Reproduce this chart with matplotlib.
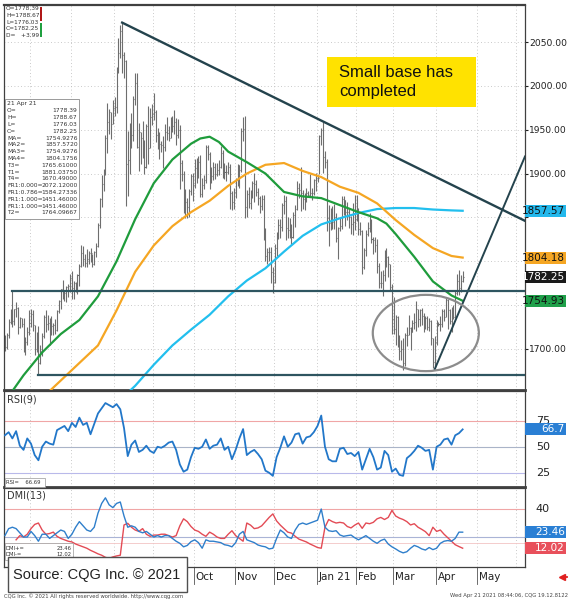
import numpy as np
import pandas as pd
import matplotlib
matplotlib.use("Agg")
import matplotlib.pyplot as plt
from matplotlib.patches import Ellipse, Rectangle
from matplotlib.lines import Line2D
from matplotlib.transforms import blended_transform_factory

# daily gold bars, 12 May 2020 .. 21 Apr 2021 (business days)
dates = pd.bdate_range("2020-05-12", "2021-04-21")

highs = [
    1716, 1718, 1734, 1745, 1765.61, 1746, 1753, 1748, 1737, 1735, 1735, 1714, 1725, 1744,
    1745, 1744, 1727, 1719, 1726, 1705, 1718, 1739, 1744, 1739, 1735, 1738, 1730, 1734, 1744, 1756, 1768, 1779, 1767, 1772, 1774, 1785,
    1789, 1777, 1776, 1786, 1797, 1818, 1817, 1808, 1814, 1812, 1815, 1808, 1812, 1821, 1844, 1872, 1898, 1905, 1944, 1980, 1974, 1970, 1984,
    1987, 2021, 2055, 2069, 2072.12, 2039, 2030, 1949, 1958, 1969, 1988, 2015, 2015, 1958, 1947, 1960, 1938, 1957, 1977, 1975, 1979,
    1992, 1973, 1952, 1947, 1937, 1943, 1956, 1965, 1954, 1964, 1966, 1973, 1963, 1962, 1955, 1915, 1903, 1882, 1872, 1882, 1900, 1901,
    1917, 1918, 1920, 1921, 1895, 1898, 1933, 1933, 1925, 1908, 1913, 1912, 1912, 1916, 1931, 1927, 1912, 1910, 1913, 1911, 1880, 1883,
    1895, 1911, 1910, 1952, 1965, 1966, 1881, 1885, 1881, 1892, 1901, 1893, 1884, 1874, 1875, 1875, 1838, 1815, 1816, 1816, 1793,
    1820, 1833, 1848, 1848, 1866, 1875, 1874, 1850, 1849, 1842, 1856, 1864, 1891, 1889, 1907, 1881, 1878, 1884, 1880, 1900, 1883, 1894, 1901,
    1898, 1944, 1952, 1959, 1926, 1917, 1864, 1861, 1863, 1865, 1855, 1839, 1850, 1874, 1874, 1870, 1867, 1860, 1852, 1866, 1875,
    1875, 1861, 1845, 1836, 1815, 1836, 1845, 1855, 1848, 1828, 1828, 1825, 1798, 1789, 1790, 1813, 1815, 1806, 1797, 1774,
    1759, 1739, 1738, 1716, 1710, 1712, 1718, 1725, 1739, 1725, 1733, 1741, 1755, 1745, 1745, 1747, 1741, 1738, 1738, 1735, 1733, 1712, 1715,
    1733, 1731, 1738, 1745, 1745, 1758, 1757, 1746, 1748, 1750, 1766, 1785, 1790, 1784, 1788.67,
]
lows = [
    1698, 1700, 1713, 1728, 1725, 1727, 1737, 1717, 1724, 1725, 1697, 1693, 1705, 1716,
    1725, 1721, 1693, 1697, 1670.49, 1683, 1692, 1712, 1719, 1722, 1704, 1716, 1716, 1717, 1720, 1741, 1746, 1757, 1755, 1754, 1759, 1765,
    1757, 1757, 1765, 1763, 1772, 1794, 1795, 1794, 1794, 1797, 1799, 1794, 1796, 1805, 1816, 1838, 1862, 1880, 1898, 1924, 1945, 1939, 1956,
    1966, 1969, 2015, 2032, 2015, 2009, 1863, 1874, 1900, 1929, 1937, 1978, 1929, 1903, 1911, 1918, 1900, 1906, 1911, 1929, 1955,
    1961, 1936, 1928, 1917, 1925, 1906, 1926, 1938, 1937, 1940, 1947, 1945, 1932, 1941, 1882, 1891, 1855, 1849, 1849, 1851, 1875, 1869,
    1884, 1889, 1895, 1873, 1873, 1882, 1889, 1916, 1882, 1889, 1893, 1894, 1897, 1898, 1906, 1895, 1894, 1891, 1899, 1860, 1859, 1860,
    1872, 1886, 1883, 1902, 1937, 1849, 1850, 1861, 1860, 1872, 1867, 1874, 1864, 1855, 1859, 1824, 1800, 1797, 1800, 1775, 1764,
    1775, 1806, 1825, 1826, 1835, 1854, 1824, 1826, 1826, 1820, 1826, 1839, 1858, 1872, 1857, 1860, 1859, 1868, 1873, 1873, 1870, 1875, 1880,
    1890, 1900, 1932, 1901, 1906, 1835, 1817, 1836, 1837, 1837, 1822, 1803, 1834, 1837, 1853, 1840, 1847, 1838, 1831, 1830, 1836,
    1846, 1830, 1830, 1785, 1791, 1806, 1829, 1833, 1821, 1808, 1811, 1787, 1769, 1770, 1760, 1778, 1793, 1782, 1766, 1717,
    1717, 1705, 1702, 1687, 1687, 1676, 1680, 1703, 1716, 1699, 1719, 1723, 1721, 1725, 1726, 1727, 1719, 1723, 1722, 1720, 1705, 1678, 1677,
    1705, 1726, 1720, 1725, 1732, 1736, 1723, 1728, 1719, 1734, 1735, 1762, 1762, 1765, 1776.03,
]
closes = [
    1702, 1716, 1731, 1743, 1732, 1745, 1747, 1725, 1735, 1729, 1710, 1708, 1719, 1730,
    1740, 1727, 1700, 1713, 1684, 1698, 1715, 1737, 1728, 1730, 1726, 1726, 1727, 1722, 1743, 1755, 1768, 1762, 1764, 1771, 1772, 1781,
    1770, 1775, 1774, 1784, 1795, 1809, 1803, 1798, 1803, 1809, 1809, 1797, 1810, 1817, 1841, 1871, 1888, 1902, 1941, 1959, 1970, 1957, 1975,
    1976, 2019, 2038, 2063, 2035, 2028, 1911, 1915, 1954, 1944, 1985, 2003, 1930, 1947, 1940, 1929, 1907, 1954, 1929, 1964, 1968,
    1970, 1944, 1938, 1934, 1932, 1930, 1947, 1946, 1941, 1957, 1954, 1959, 1944, 1950, 1912, 1900, 1863, 1868, 1862, 1880, 1897, 1887,
    1906, 1900, 1913, 1877, 1887, 1893, 1930, 1922, 1891, 1897, 1908, 1899, 1904, 1907, 1924, 1905, 1902, 1902, 1908, 1878, 1868, 1879,
    1894, 1910, 1904, 1948, 1951, 1862, 1877, 1866, 1873, 1889, 1888, 1879, 1872, 1863, 1871, 1837, 1806, 1811, 1811, 1788, 1776,
    1815, 1831, 1841, 1839, 1864, 1869, 1838, 1836, 1839, 1828, 1853, 1860, 1884, 1881, 1878, 1871, 1875, 1878, 1876, 1878, 1878, 1893, 1895,
    1895, 1943, 1950, 1919, 1913, 1849, 1844, 1856, 1845, 1851, 1827, 1838, 1840, 1871, 1870, 1856, 1856, 1850, 1843, 1845, 1848,
    1860, 1837, 1834, 1793, 1813, 1831, 1838, 1842, 1825, 1824, 1819, 1795, 1775, 1775, 1784, 1808, 1805, 1797, 1771, 1734,
    1723, 1737, 1712, 1698, 1700, 1684, 1716, 1716, 1724, 1719, 1730, 1731, 1745, 1734, 1744, 1738, 1726, 1735, 1725, 1732, 1712, 1685, 1708,
    1728, 1729, 1728, 1743, 1737, 1756, 1744, 1732, 1744, 1737, 1764, 1777, 1770, 1778, 1782.25,
]

# moving averages (bar number, value)
ma_green_bars = [4, 10, 20, 30, 40, 50, 60, 70, 80, 90, 100, 105, 110, 115, 120, 130, 140, 150,
                 160, 170, 180, 190, 200, 205, 210, 220, 230, 240, 246]
ma_green = [1652, 1670, 1696, 1717, 1733, 1760, 1800, 1848, 1889, 1916, 1934, 1940, 1942, 1936,
            1925, 1913, 1900, 1879, 1874, 1872, 1864, 1856, 1849, 1843, 1831, 1805, 1777, 1761, 1754.93]
ma_orange_bars = [24, 30, 40, 50, 60, 70, 80, 90, 100, 110, 120, 130, 140, 150, 160, 170, 180,
                  190, 200, 210, 220, 230, 240, 246]
ma_orange = [1652, 1664, 1684, 1704, 1744, 1788, 1818, 1840, 1856, 1869, 1886, 1900, 1910, 1912,
             1903, 1896, 1885, 1878, 1866, 1847, 1830, 1815, 1806, 1804.18]
ma_cyan_bars = [67, 70, 80, 90, 100, 110, 120, 130, 140, 150, 160, 170, 180, 190, 200, 210, 220,
                230, 240, 246]
ma_cyan = [1652, 1658, 1682, 1704, 1722, 1739, 1760, 1778, 1792, 1811, 1829, 1842, 1849, 1855,
           1859.5, 1860.7, 1860.7, 1859, 1858, 1857.57]

# RSI(9) and DMI(13), one reading every second bar
rsi = [61, 64, 58, 65, 51, 47, 58, 53, 42, 37,
       50, 55, 53, 52, 66, 68, 70, 65, 73, 69,
       78, 71, 73, 62, 72, 82, 87, 92, 90, 88,
       91, 86, 68, 41, 52, 56, 45, 47, 51, 46,
       44, 50, 49, 51, 54, 55, 47, 33, 26, 28,
       40, 49, 48, 50, 57, 48, 51, 52, 58, 47,
       50, 38, 47, 58, 67, 42, 45, 47, 43, 38,
       27, 25, 22, 40, 49, 60, 50, 54, 62, 63,
       53, 59, 60, 64, 70, 80, 50, 38, 36, 36,
       48, 49, 43, 44, 41, 45, 28, 38, 48, 40,
       28, 30, 46, 42, 26, 29, 23, 22, 39, 42,
       46, 51, 49, 46, 47, 28, 50, 52, 57, 58,
       52, 61, 63, 66.69]
dmi_plus = [21, 26, 27, 26, 23, 20, 20, 24, 21, 17,
            22, 22, 19, 21, 23, 25, 24, 19, 22, 27,
            31, 28, 25, 24, 27, 37, 44, 48, 43, 41,
            44, 45, 35, 27, 28, 27, 24, 23, 24, 22,
            20, 21, 20, 21, 21, 19, 17, 15.5, 13, 14,
            16.7, 18, 16, 12, 18, 17, 17, 16.5, 16, 14.5,
            14, 13, 16, 22, 24, 18, 17, 16, 14.3, 13.5,
            13, 11.5, 12, 19, 25, 23, 20, 19, 25, 29,
            30, 29, 30, 31, 32, 40, 27, 24.5, 24, 24.5,
            21.5, 20.5, 21, 21.4, 19.5, 18, 19.5, 21, 19, 17,
            15.5, 17.5, 18.5, 15, 13, 11.5, 9.8, 8.7, 9.5, 12,
            14, 13, 11.5, 10.7, 12.5, 11, 12, 15.5, 17, 17.5,
            17, 19, 23.5, 23.46]
dmi_minus = [np.nan, np.nan, np.nan, 18, 21, 20, 22, 26, 29, 30,
             25, 22, 22.5, 23.5, 20.5, 19, 18, 17, 16.5, 15,
             14, 13, 12, 10.5, 9.3, 8, 7, 5.5, 4.8, 5.8,
             6.5, 7, 28.6, 29.8, 27, 25, 24, 26, 22, 20.5,
             21.4, 21.4, 22, 22, 21, 20, 21, 28, 33, 31,
             27.5, 25, 24, 22, 20.5, 23.5, 22, 20, 19, 19,
             22, 24.5, 21, 19, 17, 30, 28.5, 26, 26.5, 28,
             31, 34, 36.5, 31.5, 28.5, 26, 23.5, 22.8, 20.5, 18.5,
             17.5, 16.5, 15, 13.8, 12.5, 12, 27, 32.5, 31, 30,
             30.5, 30, 27.5, 26.5, 28.5, 30, 26.2, 30, 29.5, 30.5,
             33, 34, 32.5, 34, 39, 35, 33.5, 32.5, 31, 28.6,
             29.5, 27, 25.5, 23.8, 21, 27, 24, 25, 22, 19.5,
             17, 14.5, 13.2, 12.02]

# trend lines: (bar, price) pairs
down_trend = [(63, 2072.12), (246, 1881.04)]
up_trend = [(231, 1677.0), (246, 1752.0)]
support_t3 = (4, 1765.61)
support_t4 = (18, 1670.49)
base_ellipse = dict(bar=226.2, price=1718.2, bars_wide=57, price_high=87)

# price scale; 1750/1800/1850 sit under the coloured value boxes
price_ticks = [1700, 1750, 1800, 1850, 1900, 1950, 2000, 2050]
price_ticklabels = ["1700.00", "", "", "", "1900.00", "1950.00", "2000.00", "2050.00"]

# month labels (Jun..Sep sit under the source box and are not shown)
month_labels = [None, None, None, None, "Oct", "Nov", "Dec", "Jan 21", "Feb", "Mar", "Apr", "May"]
info_rows = [("O=", "1778.39"), ("H=", "1788.67"), ("L=", "1776.03"), ("C=", "1782.25"),
             ("MA=", "1754.9276"), ("MA2=", "1857.5720"), ("MA3=", "1754.9276"), ("MA4=", "1804.1756"),
             ("T3=", "1765.61000"), ("T1=", "1881.03750"), ("T4=", "1670.49000"),
             ("FR1:0.000=", "2072.12000"), ("FR1:0.786=", "1584.27336"), ("FR1:1.000=", "1451.46000"),
             ("FR1:1.000=", "1451.46000"), ("T2=", "1764.09667")]

W, H = 573, 602
fig = plt.figure(figsize=(W / 100, H / 100), dpi=100)
fig.patch.set_facecolor("white")


def fx(px):
    return px / W


def fy(py):
    return 1 - py / H


ax_p = fig.add_axes([fx(4), fy(390), fx(525) - fx(4), fy(5) - fy(390)])
ax_r = fig.add_axes([fx(4), fy(487), fx(525) - fx(4), fy(391) - fy(487)])
ax_d = fig.add_axes([fx(4), fy(567), fx(525) - fx(4), fy(488) - fy(567)])

x = np.arange(len(dates))
x2 = x[::2]
xmax = 279.5
all_days = pd.bdate_range("2020-05-12", "2021-06-15")
month_starts = [i for i in range(1, len(all_days)) if all_days[i].month != all_days[i - 1].month]
month_starts = [m for m in month_starts if m < xmax]

grid_kw = dict(color="#b8b8b8", lw=0.6, ls=(0, (1, 3)), zorder=0)
for ax in (ax_p, ax_r, ax_d):
    ax.set_xlim(-0.5, xmax)
    ax.set_xticks([])
    for m in month_starts:
        ax.axvline(m - 0.5, **grid_kw)
    for s in ax.spines.values():
        s.set_color("#404040")
        s.set_linewidth(0.9)

ax_p.spines["bottom"].set_linewidth(2)
ax_r.spines["bottom"].set_linewidth(2)
ax_p.spines["top"].set_linewidth(1.6)

# price panel
ax_p.set_ylim(1653.2, 2092.2)
for lvl in price_ticks:
    ax_p.axhline(lvl, **grid_kw)
ax_p.set_yticks(price_ticks)
ax_p.set_yticklabels(price_ticklabels, fontsize=6.6)
ax_p.tick_params(axis="y", left=False, labelleft=False, right=True, labelright=True,
                 length=2, pad=1, colors="#202020")

ax_p.vlines(x, lows, highs, color="#6e6e6e", lw=0.8, zorder=2)
ax_p.hlines(closes, x, x + 0.55, color="#6e6e6e", lw=0.8, zorder=2)

ax_p.plot(ma_cyan_bars, ma_cyan, color="#22bfee", lw=1.6, zorder=3)
ax_p.plot(ma_orange_bars, ma_orange, color="#f5a623", lw=1.6, zorder=3)
ax_p.plot(ma_green_bars, ma_green, color="#1f9c3c", lw=1.6, zorder=3)

line_col = "#24434d"
(b0, p0), (b1, p1) = down_trend
slope = (p1 - p0) / (b1 - b0)
ax_p.plot([b0, xmax], [p0, p0 + slope * (xmax - b0)], color=line_col, lw=1.7, zorder=4)
(b0, p0), (b1, p1) = up_trend
slope = (p1 - p0) / (b1 - b0)
ax_p.plot([b0, xmax], [p0, p0 + slope * (xmax - b0)], color=line_col, lw=1.4, zorder=4)
ax_p.plot([support_t3[0], xmax], [support_t3[1]] * 2, color="#2e5560", lw=1.6, zorder=4)
ax_p.plot([support_t4[0], xmax], [support_t4[1]] * 2, color="#2e5560", lw=1.6, zorder=4)
ax_p.add_patch(Ellipse((base_ellipse["bar"], base_ellipse["price"]), base_ellipse["bars_wide"],
                       base_ellipse["price_high"], fill=False, ec="#8c8c8c", lw=1.6, zorder=4))

# RSI panel
ax_r.set_ylim(11.3, 103.6)
ax_r.axhline(75, color="#f0a6a6", lw=0.8, zorder=1)
ax_r.axhline(50, color="#aab4c8", lw=0.8, zorder=1)
ax_r.axhline(25, color="#b9b9ea", lw=0.8, zorder=1)
ax_r.plot(x2, rsi, color="#2277c9", lw=1.3, zorder=3)
ax_r.set_yticks([])

# DMI panel
ax_d.set_ylim(-1.4, 55)
ax_d.axhline(40, color="#f0a6a6", lw=0.8, zorder=1)
ax_d.axhline(20, color="#aab4d6", lw=0.8, zorder=1)
ax_d.axhline(16, color="#f3c4c4", lw=0.6, zorder=1)
ax_d.plot(x2, dmi_minus, color="#e34b55", lw=1.0, zorder=3)
ax_d.plot(x2, dmi_plus, color="#2f7fcb", lw=1.0, zorder=3)
ax_d.set_yticks([])

# month labels under DMI
lab_tr = blended_transform_factory(ax_d.transData, ax_d.transAxes)
for m, lab in zip(month_starts, month_labels):
    ax_d.plot([m - 0.5, m - 0.5], [0, -0.22], color="#555555", lw=0.6, transform=lab_tr, clip_on=False)
    if lab:
        ax_d.text(m + 0.6, -0.13, lab, transform=lab_tr, fontsize=7.5, va="center", ha="left",
                  color="#222222", clip_on=False)


# coloured value boxes at the right
def side_box(ax, value, text, fc, tc):
    y0, y1 = ax.get_ylim()
    px_per_unit = ax.get_position().height * H / (y1 - y0)
    h = 12 / px_per_unit
    tr = blended_transform_factory(fig.transFigure, ax.transData)
    ax.add_patch(Rectangle((fx(525), value - h / 2), fx(566) - fx(525), h, transform=tr,
                           fc=fc, ec="none", clip_on=False, zorder=6))
    ax.text(fx(565), value, text, transform=tr, ha="right", va="center", color=tc,
            fontsize=7.5, clip_on=False, zorder=7)


side_box(ax_p, ma_cyan[-1], f"{ma_cyan[-1]:.2f}", "#23b8ec", "#111111")
side_box(ax_p, ma_orange[-1], f"{ma_orange[-1]:.2f}", "#f5a623", "#111111")
side_box(ax_p, closes[-1], f"{closes[-1]:.2f}", "#1a1a1a", "white")
side_box(ax_p, ma_green[-1], f"{ma_green[-1]:.2f}", "#1fa04a", "#111111")
side_box(ax_r, rsi[-1], f"{rsi[-1]:.1f}", "#2a7fd4", "white")
side_box(ax_d, dmi_plus[-1], f"{dmi_plus[-1]:.2f}", "#2a7fd4", "white")
side_box(ax_d, dmi_minus[-1], f"{dmi_minus[-1]:.2f}", "#e8505b", "white")

rtr_r = blended_transform_factory(fig.transFigure, ax_r.transData)
for lvl in (75, 50, 25):
    ax_r.text(fx(543), lvl, str(lvl), transform=rtr_r, fontsize=8, ha="center", va="center",
              color="#222222", clip_on=False, zorder=5)
rtr_d = blended_transform_factory(fig.transFigure, ax_d.transData)
ax_d.text(fx(543), 40, "40", transform=rtr_d, fontsize=8, ha="center", va="center", color="#222222", clip_on=False)

# panel titles
fig.text(fx(7), fy(399), "RSI(9)", fontsize=7, color="#333333", va="center")
fig.text(fx(7), fy(496), "DMI(13)", fontsize=7, color="#333333", va="center")

# small readouts
fig.add_artist(Rectangle((fx(5), fy(487)), fx(45) - fx(5), fy(478) - fy(487), transform=fig.transFigure,
                         fc="white", ec="#999999", lw=0.5))
fig.text(fx(6), fy(482.5), f"RSI=    {rsi[-1]:.2f}", fontsize=3.8, va="center", color="#333333")
fig.add_artist(Rectangle((fx(5), fy(560)), fx(73) - fx(5), fy(543) - fy(560), transform=fig.transFigure,
                         fc="white", ec="#999999", lw=0.5))
fig.text(fx(6), fy(548), "DMI+=", fontsize=3.8, va="center", color="#333333")
fig.text(fx(72), fy(548), f"{dmi_plus[-1]:.2f}", fontsize=3.8, va="center", ha="right", color="#333333")
fig.text(fx(6), fy(555), "DMI-=", fontsize=3.8, va="center", color="#333333")
fig.text(fx(72), fy(555), f"{dmi_minus[-1]:.2f}", fontsize=3.8, va="center", ha="right", color="#333333")

# top-left data window
top_rows = ["O=1778.39", "H=1788.67", "L=1776.03", "C=1782.25", "D=   +3.99"]
for i, t in enumerate(top_rows):
    fig.text(fx(6), fy(9 + i * 6.6), t, fontsize=4.2, va="center", color="#333333")
fig.add_artist(Rectangle((fx(40), fy(21)), fx(42) - fx(40), fy(7) - fy(21), transform=fig.transFigure,
                         fc="#b01818", ec="none"))
fig.add_artist(Rectangle((fx(40), fy(37)), fx(42) - fx(40), fy(23) - fy(37), transform=fig.transFigure,
                         fc="#20a040", ec="none"))

# info box
fig.add_artist(Rectangle((fx(5), fy(219)), fx(79) - fx(5), fy(99) - fy(219), transform=fig.transFigure,
                         fc="white", ec="#8a8a8a", lw=0.6))
fig.text(fx(7), fy(104), "21 Apr 21", fontsize=4.3, va="center", color="#333333")
for i, (k, v) in enumerate(info_rows):
    yy = fy(111 + i * 6.8)
    fig.text(fx(7), yy, k, fontsize=4.3, va="center", color="#333333")
    fig.text(fx(77.5), yy, v, fontsize=4.3, va="center", ha="right", color="#333333")

# callout
fig.add_artist(Rectangle((fx(327), fy(107)), fx(476) - fx(327), fy(57) - fy(107), transform=fig.transFigure,
                         fc="#ffe200", ec="none"))
fig.text(fx(339), fy(82), "Small base has\ncompleted", fontsize=12, family="Liberation Sans",
         va="center", ha="left", color="#111111", linespacing=1.3)

# source box
fig.add_artist(Rectangle((fx(8), fy(592)), fx(187) - fx(8), fy(557) - fy(592), transform=fig.transFigure,
                         fc="white", ec="#505050", lw=1.0))
fig.text(fx(97), fy(575), "Source: CQG Inc. \u00a9 2021", fontsize=10.5, family="Liberation Sans",
         ha="center", va="center", color="#222222")

# footer
fig.text(fx(4), fy(596), "CQG Inc. \u00a9 2021 All rights reserved worldwide. http://www.cqg.com",
         fontsize=3.8, va="center", color="#444444")
fig.text(fx(568), fy(596), "Wed Apr 21 2021 08:44:06, CQG 19.12.8122", fontsize=3.8, va="center",
         ha="right", color="#444444")
fig.add_artist(Line2D([fx(562)], [fy(577)], marker="<", color="#e02020", markersize=4.5,
                      transform=fig.transFigure))
fig.add_artist(Line2D([fx(562), fx(567)], [fy(577), fy(577)], color="#e02020", lw=1.3,
                      transform=fig.transFigure))

fig.savefig("out.png", dpi=100)
plt.close(fig)
